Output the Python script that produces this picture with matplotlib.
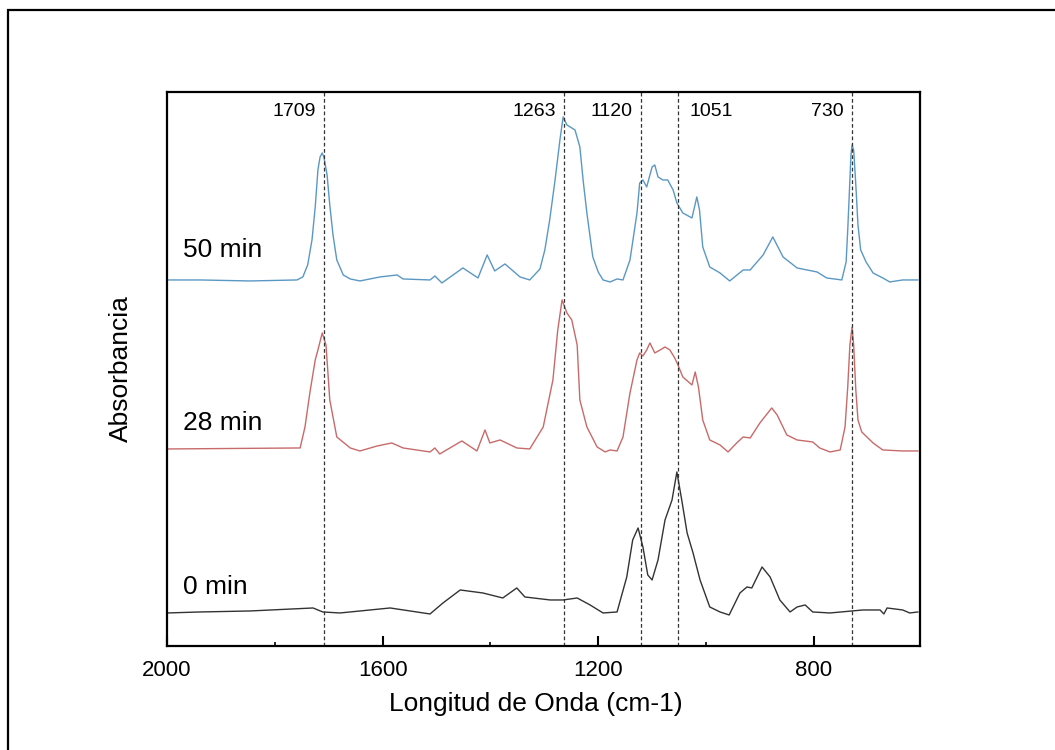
import matplotlib
matplotlib.use("Agg")
import matplotlib.pyplot as plt
from matplotlib.patches import Rectangle

plt.rcParams['font.family'] = ['Liberation Sans', 'DejaVu Sans']

# espectros FTIR (numero de onda en cm-1, absorbancia con desplazamiento)
wn_50 = [2000, 1939, 1846, 1759, 1748, 1739, 1731, 1725, 1720, 1716, 1712, 1709,
         1703, 1698, 1692, 1685, 1673, 1660, 1642, 1605, 1573, 1562, 1512, 1503,
         1490, 1451, 1423, 1406, 1392, 1373, 1345, 1327, 1308, 1299, 1290, 1280,
         1271, 1265, 1258, 1252, 1243, 1234, 1228, 1221, 1210, 1200, 1191, 1178,
         1165, 1154, 1141, 1128, 1123, 1117, 1110, 1100, 1095, 1089, 1080, 1071,
         1061, 1054, 1043, 1026, 1017, 1012, 1006, 993, 974, 956, 931, 918, 894,
         876, 857, 831, 794, 776, 748, 740, 737, 733, 731, 729, 726, 722, 718,
         713, 703, 690, 672, 659, 635, 607]
abs_50 = [3.66, 3.66, 3.65, 3.66, 3.69, 3.81, 4.06, 4.39, 4.76, 4.89, 4.93, 4.89,
          4.71, 4.41, 4.11, 3.86, 3.71, 3.67, 3.65, 3.69, 3.71, 3.67, 3.66, 3.70,
          3.63, 3.78, 3.68, 3.91, 3.75, 3.82, 3.69, 3.66, 3.77, 3.96, 4.26, 4.66,
          5.06, 5.29, 5.21, 5.19, 5.16, 4.99, 4.66, 4.33, 3.89, 3.74, 3.66, 3.64,
          3.67, 3.66, 3.86, 4.33, 4.63, 4.66, 4.59, 4.79, 4.81, 4.69, 4.66, 4.66,
          4.56, 4.43, 4.33, 4.28, 4.49, 4.36, 3.99, 3.79, 3.73, 3.65, 3.76, 3.76,
          3.91, 4.09, 3.89, 3.78, 3.74, 3.68, 3.66, 3.84, 4.16, 4.66, 4.91, 5.01,
          4.96, 4.61, 4.21, 3.96, 3.84, 3.73, 3.68, 3.64, 3.66, 3.66]

wn_28 = [2000, 1753, 1744, 1735, 1725, 1720, 1712, 1705, 1698, 1685, 1660, 1642,
         1610, 1583, 1562, 1512, 1503, 1494, 1453, 1425, 1410, 1401, 1382, 1351,
         1327, 1302, 1289, 1284, 1275, 1267, 1258, 1249, 1239, 1234, 1221, 1202,
         1187, 1178, 1165, 1154, 1141, 1128, 1123, 1117, 1110, 1104, 1095, 1085,
         1076, 1067, 1058, 1052, 1043, 1026, 1020, 1014, 1006, 993, 974, 959, 943,
         931, 918, 900, 878, 868, 850, 831, 802, 789, 770, 751, 742, 737, 733,
         729, 726, 722, 718, 711, 690, 672, 635, 607]
abs_28 = [1.97, 1.98, 2.19, 2.53, 2.86, 2.96, 3.13, 3.01, 2.46, 2.09, 1.98, 1.95,
          2.00, 2.03, 1.98, 1.94, 1.98, 1.92, 2.05, 1.95, 2.16, 2.03, 2.06, 1.98,
          1.97, 2.19, 2.53, 2.66, 3.16, 3.46, 3.33, 3.26, 3.01, 2.46, 2.19, 1.99,
          1.94, 1.96, 1.95, 2.09, 2.53, 2.86, 2.93, 2.90, 2.96, 3.03, 2.93, 2.96,
          2.99, 2.96, 2.88, 2.81, 2.69, 2.61, 2.74, 2.59, 2.26, 2.06, 2.01, 1.94,
          2.03, 2.09, 2.08, 2.23, 2.38, 2.31, 2.11, 2.06, 2.04, 1.98, 1.94, 1.96,
          2.19, 2.59, 3.01, 3.19, 3.01, 2.56, 2.26, 2.14, 2.03, 1.96, 1.95, 1.95]

wn_0 = [2000, 1939, 1846, 1729, 1711, 1679, 1586, 1512, 1488, 1456, 1414, 1377,
        1351, 1336, 1289, 1265, 1239, 1215, 1191, 1165, 1147, 1136, 1126, 1117,
        1108, 1100, 1089, 1076, 1063, 1054, 1045, 1035, 1024, 1011, 993, 974,
        957, 937, 924, 915, 896, 881, 863, 844, 831, 816, 802, 770, 709, 677,
        670, 664, 635, 622, 607]
abs_0 = [0.33, 0.34, 0.35, 0.38, 0.34, 0.33, 0.38, 0.32, 0.43, 0.56, 0.53, 0.48,
         0.58, 0.49, 0.46, 0.46, 0.48, 0.41, 0.33, 0.34, 0.69, 1.06, 1.18, 0.99,
         0.71, 0.66, 0.86, 1.26, 1.46, 1.74, 1.46, 1.13, 0.93, 0.66, 0.39, 0.34,
         0.31, 0.53, 0.59, 0.58, 0.79, 0.69, 0.46, 0.34, 0.39, 0.41, 0.34, 0.33,
         0.36, 0.36, 0.32, 0.38, 0.36, 0.33, 0.34]

peaks = [1709, 1263, 1120, 1051, 730]
peak_side = ['left', 'left', 'left', 'right', 'left']
curve_labels = ['50 min', '28 min', '0 min']
label_y = [3.96, 2.23, 0.59]


def main():
    fig = plt.figure(figsize=(10.55, 7.5), dpi=100)
    ax = fig.add_axes([0.1583, 0.1387, 0.7137, 0.7387])

    ax.plot(wn_50, abs_50, color='#5a98c4', lw=1.0)
    ax.plot(wn_28, abs_28, color='#c86a6a', lw=1.0)
    ax.plot(wn_0, abs_0, color='#333333', lw=1.0)

    for p, side in zip(peaks, peak_side):
        ax.axvline(p, color='#333333', lw=0.9, ls=(0, (3, 2)))
        if side == 'left':
            ax.annotate(str(p), xy=(p, 5.34), xytext=(-6, 0), textcoords='offset points',
                        ha='right', va='center', fontsize=14)
        else:
            ax.annotate(str(p), xy=(p, 5.34), xytext=(8, 0), textcoords='offset points',
                        ha='left', va='center', fontsize=14)

    for txt, y in zip(curve_labels, label_y):
        ax.text(1970, y, txt, ha='left', va='center', fontsize=19)

    ax.set_xlim(2000, 603)
    ax.set_ylim(0, 5.54)
    ax.set_xticks([2000, 1600, 1200, 800])
    ax.set_xticks([1800, 1400, 1000], minor=True)
    ax.set_yticks([])
    ax.tick_params(axis='x', which='major', direction='in', length=7, width=1.5,
                   labelsize=16, pad=10)
    ax.tick_params(axis='x', which='minor', direction='in', length=3, width=1.2)
    for s in ax.spines.values():
        s.set_linewidth(1.6)

    ax.set_xlabel('Longitud de Onda (cm-1)', fontsize=19)
    ax.xaxis.set_label_coords(0.49, -0.083)
    ax.set_ylabel('Absorbancia', fontsize=19)
    ax.yaxis.set_label_coords(-0.045, 0.5)

    # marco exterior
    fig.add_artist(Rectangle((8 / 1055, -0.1), 1.2, 1.1 - 10 / 750, transform=fig.transFigure,
                             fill=False, lw=1.6, ec='black', clip_on=False))

    fig.savefig('out.png', dpi=100)


if __name__ == "__main__":
    main()
